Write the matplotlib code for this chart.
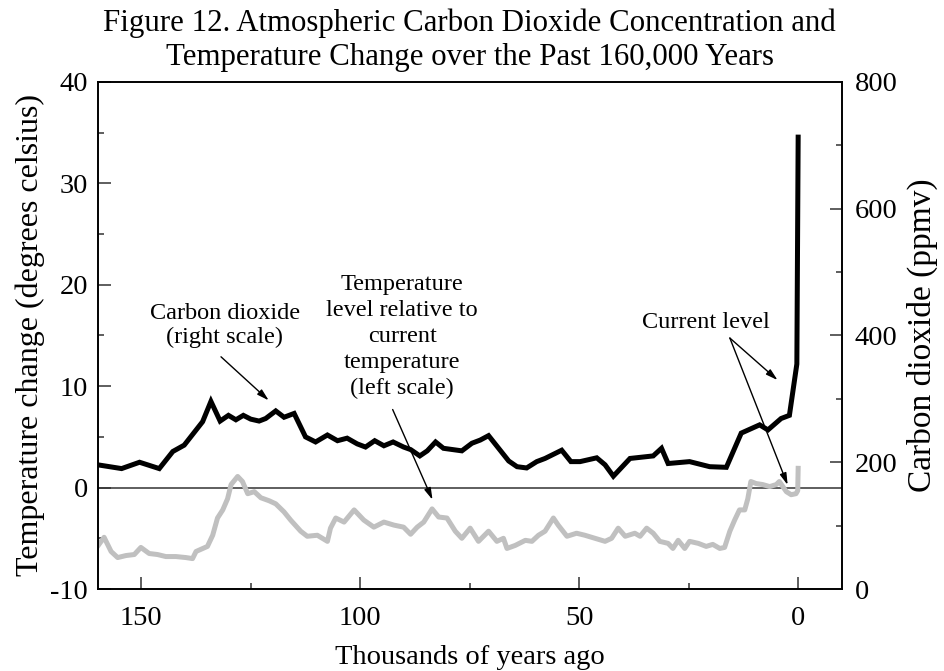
import matplotlib
matplotlib.use('Agg')
import matplotlib.pyplot as plt

plt.rcParams['font.family'] = ['Liberation Serif', 'DejaVu Serif']
plt.rcParams['axes.unicode_minus'] = False

# 데이터 ------------------------------------------------------
co2_kyr = [160, 154.5, 150.4, 145.9, 142.8, 140.2, 136, 134.1, 132, 130.1,
           128.4, 126.7, 125, 123.1, 121.6, 119.3, 117.4, 115.1, 112.5, 110.2,
           107.5, 105.2, 103, 100.7, 98.8, 96.7, 94.6, 92.5, 90.1, 88.5,
           86.4, 84.7, 82.8, 81, 76.8, 74.5, 72.6, 70.7, 68.4, 66.1,
           64.2, 62, 59.7, 57.8, 54, 51.9, 49.8, 46, 44.1, 42.2,
           38.4, 33.1, 31.2, 29.7, 24.8, 20.2, 16.4, 13, 8.8, 6.9,
           3.9, 2, 0.3, 0]
co2_ppmv = [196, 190, 200, 190, 217, 227, 264, 296, 265, 274,
            267, 274, 268, 265, 269, 281, 271, 277, 240, 232,
            243, 234, 238, 229, 224, 234, 226, 232, 224, 220,
            210, 218, 232, 222, 218, 230, 235, 242, 222, 202,
            193, 191, 201, 206, 219, 201, 201, 207, 196, 178,
            206, 210, 222, 198, 201, 193, 192, 246, 259, 251,
            269, 274, 355, 713]

temp_kyr = [160, 158.5, 156.9, 155.4, 153.5, 151.6, 150.1, 148.2, 146.3, 144.4,
            142.1, 139.8, 138.3, 137.5, 134.9, 133.7, 132.6, 131.4, 130.3, 129.5,
            128, 126.9, 125.7, 124.2, 122.7, 120.8, 119.3, 117.4, 115.9, 113.6,
            112.1, 109.8, 107.5, 106.8, 105.6, 103.7, 101.4, 99.2, 96.9, 94.6,
            92.3, 90.1, 88.5, 87, 85.5, 83.6, 82.1, 80.2, 78.3, 76.8,
            74.9, 73, 70.7, 68.8, 67.3, 66.5, 64.6, 62.3, 60.8, 59.3,
            57.8, 55.9, 54.8, 52.8, 50.6, 48.7, 46.4, 44.1, 42.6, 41.1,
            39.5, 37.3, 36.1, 34.6, 33.1, 31.6, 29.7, 28.6, 27.4, 25.9,
            24.8, 22.8, 21, 19.5, 17.9, 16.8, 15.6, 14.5, 13.4, 12.2,
            11.5, 10.8, 9.6, 8.1, 6.5, 5, 4.3, 2.7, 1.6, 0.5,
            0.1, 0]
temp_c = [-5.8, -4.9, -6.3, -6.9, -6.7, -6.6, -5.9, -6.5, -6.6, -6.8,
          -6.8, -6.9, -7.0, -6.3, -5.8, -4.7, -3.0, -2.2, -1.1, 0.3,
          1.1, 0.6, -0.6, -0.4, -1.0, -1.3, -1.6, -2.4, -3.2, -4.3,
          -4.8, -4.7, -5.3, -4.0, -3.0, -3.4, -2.2, -3.2, -3.9, -3.4,
          -3.7, -3.9, -4.6, -3.9, -3.4, -2.1, -2.9, -3.0, -4.3, -5.0,
          -4.0, -5.3, -4.3, -5.3, -5.0, -6.0, -5.7, -5.2, -5.3, -4.7,
          -4.3, -3.0, -3.7, -4.8, -4.5, -4.7, -5.0, -5.3, -5.0, -4.0,
          -4.8, -4.5, -4.8, -4.0, -4.5, -5.3, -5.5, -6.0, -5.2, -6.0,
          -5.3, -5.5, -5.8, -5.6, -6.0, -5.9, -4.3, -3.2, -2.2, -2.2,
          -1.1, 0.6, 0.4, 0.3, 0.1, 0.3, 0.6, -0.4, -0.7, -0.6,
          -0.3, 1.9]

x_ticks = [150, 100, 50, 0]
x_ticklabels = ['150', '100', '50', '0']
x_minor = [125, 75, 25]
left_ticks = [40, 30, 20, 10, 0, -10]
left_minor = [35, 25, 15, 5, -5]
right_ticks = [800, 600, 400, 200, 0]
right_minor = [700, 500, 300, 100]

# 그림 ------------------------------------------------------------
fig = plt.figure(figsize=(9.44, 6.71), dpi=100)
ax = fig.add_axes([0.1033, 0.1222, 0.7886, 0.7556])
ax2 = ax.twinx()

ax.plot(temp_kyr, temp_c, color='#c0c0c0', lw=3.6, solid_joinstyle='round', zorder=2)
ax.axhline(0, color='#333333', lw=1.1, zorder=1)
ax2.plot(co2_kyr, co2_ppmv, color='black', lw=3.6, solid_joinstyle='miter', zorder=3)

ax.set_xlim(160, -10)
ax.set_ylim(-10, 40)
ax2.set_ylim(0, 800)

ax.set_xticks(x_ticks)
ax.set_xticklabels(x_ticklabels)
ax.set_xticks(x_minor, minor=True)
ax.set_yticks(left_ticks)
ax.set_yticks(left_minor, minor=True)
ax2.set_yticks(right_ticks)
ax2.set_yticks(right_minor, minor=True)

fs = 20.5
for a in (ax, ax2):
    a.tick_params(which='both', direction='in', color='#333333', width=1.1, labelsize=fs)
    a.tick_params(which='major', length=9)
    a.tick_params(which='minor', length=4.5)
    for s in a.spines.values():
        s.set_linewidth(1.2)
ax.tick_params(axis='x', which='both', top=False, pad=12)
ax.tick_params(axis='y', which='both', right=False, pad=7)
ax2.tick_params(axis='y', which='both', left=False, pad=9)

ax.set_xlabel('Thousands of years ago', fontsize=fs)
ax.xaxis.set_label_coords(0.5, -0.11)
ax.set_ylabel('Temperature change (degrees celsius)', fontsize=23)
ax.yaxis.set_label_coords(-0.07, 0.5)
ax2.set_ylabel('Carbon dioxide (ppmv)', fontsize=24)
ax2.yaxis.set_label_coords(1.087, 0.5)

fig.text(0.4977, 1 - 40 / 671,
         'Figure 12. Atmospheric Carbon Dioxide Concentration and\n'
         'Temperature Change over the Past 160,000 Years',
         ha='center', va='center', fontsize=22.2, linespacing=1.25)

# 주석 -------------------------------------------------------------
afs = 17.5
arrow = dict(arrowstyle='-|>,head_length=0.7,head_width=0.2', color='black', lw=1,
             shrinkA=0, shrinkB=0)
ax.text(130.9, 16.0, 'Carbon dioxide\n(right scale)', ha='center', va='center',
        fontsize=afs, linespacing=1.2)
ax.annotate('', xy=(120.9, 8.6), xytext=(131.8, 12.9), arrowprops=arrow)

ax.text(90.4, 14.9, 'Temperature\nlevel relative to\ncurrent\ntemperature\n(left scale)',
        ha='center', va='center', fontsize=afs, linespacing=1.3)
ax.annotate('', xy=(83.5, -1.2), xytext=(92.6, 7.7), arrowprops=arrow)

ax.text(21.1, 16.3, 'Current level', ha='center', va='center', fontsize=afs)
ax.annotate('', xy=(4.7, 10.6), xytext=(15.6, 14.75), arrowprops=arrow)
ax.annotate('', xy=(2.4, 0.26), xytext=(15.6, 14.75), arrowprops=arrow)

fig.savefig('out.png', dpi=100)
